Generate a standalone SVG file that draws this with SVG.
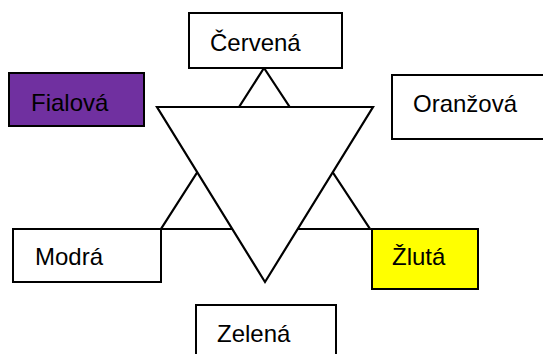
<svg xmlns="http://www.w3.org/2000/svg" width="543" height="354" viewBox="0 0 543 354">
<style>
.box{stroke:#000;stroke-width:2}
.tri{fill:#fff;stroke:#000;stroke-width:2.2;stroke-linejoin:miter}
text{font-family:"Liberation Sans",Arial,sans-serif;font-size:24px;fill:#000}
</style>
<rect width="543" height="354" fill="#fff"/>
<g id="connectors">
<polygon class="tri" points="264,68 161,229 370,229"/>
<polygon class="tri" points="157,107 373,107 265,282"/>
</g>
<g id="cervena"><rect class="box" x="189" y="13" width="153" height="55" fill="#fff"/><text x="210" y="51">Červená</text></g>
<g id="fialova"><rect class="box" x="9" y="73" width="135" height="53" fill="#7030A0"/><text x="31" y="111">Fialová</text></g>
<g id="oranzova"><rect class="box" x="392" y="75" width="160" height="64" fill="#fff"/><text x="413" y="112">Oranžová</text></g>
<g id="modra"><rect class="box" x="13" y="229" width="148" height="53" fill="#fff"/><text x="35" y="265">Modrá</text></g>
<g id="zluta"><rect class="box" x="372" y="229" width="106" height="60" fill="#ffff00"/><text x="392" y="265">Žlutá</text></g>
<g id="zelena"><rect class="box" x="196" y="305" width="140" height="60" fill="#fff"/><text x="217" y="342">Zelená</text></g>
</svg>
